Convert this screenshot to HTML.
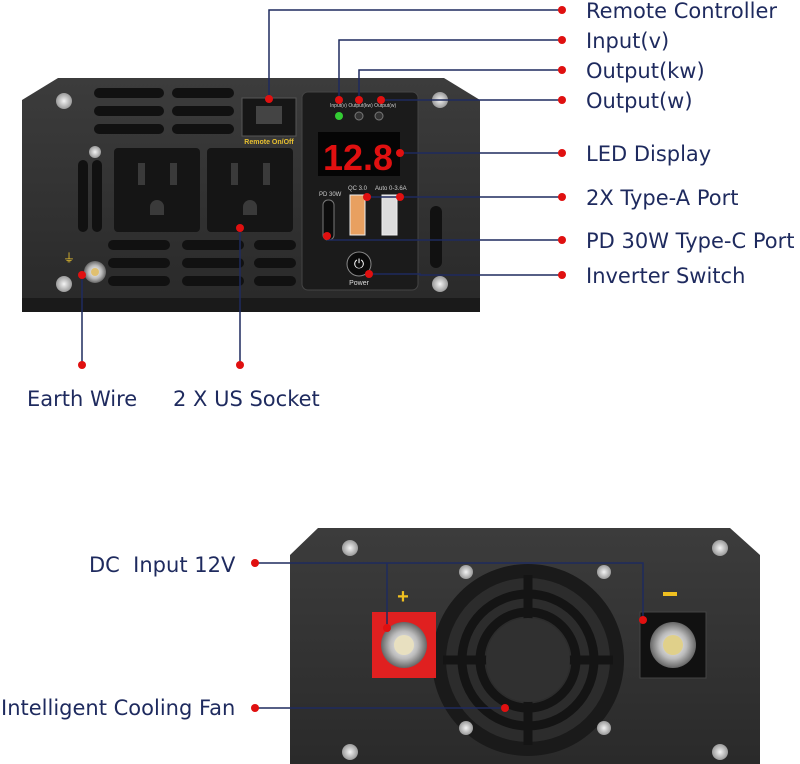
<!DOCTYPE html>
<html><head><meta charset="utf-8"><style>
html,body{margin:0;padding:0;background:#fff;width:800px;height:764px;overflow:hidden}
svg text{font-family:"Liberation Sans",sans-serif}
svg .lbl text{font-family:"DejaVu Sans",sans-serif}
</style></head><body>
<svg width="800" height="764" viewBox="0 0 800 764" xmlns="http://www.w3.org/2000/svg">
<defs>
<linearGradient id="body" x1="0" y1="0" x2="0" y2="1"><stop offset="0" stop-color="#3c3c3c"/><stop offset="1" stop-color="#2a2a2a"/></linearGradient>
<radialGradient id="screw"><stop offset="0" stop-color="#f4f4f4"/><stop offset="1" stop-color="#9a9a9a"/></radialGradient>
<radialGradient id="nut"><stop offset="0" stop-color="#fff"/><stop offset="0.6" stop-color="#bbb"/><stop offset="1" stop-color="#666"/></radialGradient>
</defs>
<rect x="22" y="292" width="458" height="20" fill="#1a1a1a"/>
<polygon points="22,100 58,78 444,78 480,100 480,298 22,298" fill="url(#body)"/>
<g fill="#111">
<rect x="94" y="88" width="70" height="10" rx="5"/><rect x="172" y="88" width="62" height="10" rx="5"/>
<rect x="94" y="106" width="70" height="10" rx="5"/><rect x="172" y="106" width="62" height="10" rx="5"/>
<rect x="94" y="124" width="70" height="10" rx="5"/><rect x="172" y="124" width="62" height="10" rx="5"/>
<rect x="108" y="240" width="62" height="10" rx="5"/><rect x="182" y="240" width="62" height="10" rx="5"/><rect x="254" y="240" width="42" height="10" rx="5"/>
<rect x="108" y="258" width="62" height="10" rx="5"/><rect x="182" y="258" width="62" height="10" rx="5"/><rect x="254" y="258" width="42" height="10" rx="5"/>
<rect x="108" y="276" width="62" height="10" rx="5"/><rect x="182" y="276" width="62" height="10" rx="5"/><rect x="254" y="276" width="42" height="10" rx="5"/>
<rect x="78" y="160" width="10" height="72" rx="5"/><rect x="92" y="160" width="10" height="72" rx="5"/>
<rect x="430" y="206" width="12" height="62" rx="6"/>
</g>
<rect x="114" y="148" width="86" height="84" rx="4" fill="#151515"/>
<rect x="207" y="148" width="86" height="84" rx="4" fill="#151515"/>
<g fill="#3a3a3a"><rect x="138" y="163" width="7" height="22"/><rect x="170" y="163" width="7" height="22"/><path d="M150 215 v-8 a7 7 0 0 1 14 0 v8z"/>
<rect x="231" y="163" width="7" height="22"/><rect x="263" y="163" width="7" height="22"/><path d="M243 215 v-8 a7 7 0 0 1 14 0 v8z"/></g>
<rect x="242" y="98" width="54" height="38" fill="#161616" stroke="#555"/>
<rect x="256" y="106" width="26" height="18" fill="#444"/>
<text x="269" y="144" font-size="7" fill="#e8c030" text-anchor="middle" font-weight="bold">Remote On/Off</text>
<rect x="302" y="92" width="116" height="198" rx="6" fill="#1b1b1b" stroke="#444"/>
<text x="330" y="107" font-size="5" fill="#ccc">Input(v)  Output(kw) Output(w)</text>
<circle cx="339" cy="116" r="4" fill="#3c3"/><circle cx="359" cy="116" r="4" fill="#333" stroke="#777"/><circle cx="379" cy="116" r="4" fill="#333" stroke="#777"/>
<rect x="318" y="132" width="82" height="44" fill="#050505"/>
<text x="358" y="170" font-size="36" fill="#e01010" text-anchor="middle" font-family="Liberation Mono" font-weight="bold">12.8</text>
<text x="319" y="196" font-size="6" fill="#ccc">PD 30W</text><text x="348" y="190" font-size="6" fill="#ccc">QC 3.0</text><text x="375" y="190" font-size="6" fill="#ccc">Auto 0-3.6A</text>
<rect x="323" y="200" width="11" height="40" rx="5" fill="#0c0c0c" stroke="#777"/>
<rect x="350" y="195" width="15" height="40" fill="#e8a060" stroke="#eee"/><rect x="382" y="195" width="15" height="40" fill="#ddd" stroke="#eee"/>
<circle cx="359" cy="264" r="12" fill="#0a0a0a" stroke="#888"/><text x="359" y="268" font-size="13" fill="#fff" text-anchor="middle">⏻</text>
<text x="359" y="285" font-size="7" fill="#ddd" text-anchor="middle">Power</text>
<g fill="url(#screw)"><circle cx="64" cy="101" r="8"/><circle cx="440" cy="100" r="8"/><circle cx="64" cy="284" r="8"/><circle cx="440" cy="284" r="8"/><circle cx="95" cy="152" r="6"/></g>
<circle cx="95" cy="272" r="11" fill="url(#nut)"/><circle cx="95" cy="272" r="4" fill="#e0c070"/>
<text x="63" y="262" font-size="12" fill="#e8c030">⏚</text>
<g stroke="#1e2a5e" stroke-width="1.5" fill="none">
<polyline points="269,99 269,10 562,10"/><polyline points="339,100 339,40 562,40"/><polyline points="359,100 359,70 562,70"/><polyline points="381,100 562,100"/>
<polyline points="400,153 562,153"/><polyline points="367,197 562,197"/><polyline points="327,240 562,240"/><polyline points="369,274 420,274 420,275 562,275"/>
<polyline points="82,275 82,365"/><polyline points="240,228 240,365"/>
</g>
<g fill="#e01010">
<circle cx="562" cy="10" r="4"/><circle cx="562" cy="40" r="4"/><circle cx="562" cy="70" r="4"/><circle cx="562" cy="100" r="4"/><circle cx="562" cy="153" r="4"/><circle cx="562" cy="197" r="4"/><circle cx="562" cy="240" r="4"/><circle cx="562" cy="275" r="4"/>
<circle cx="269" cy="99" r="4"/><circle cx="339" cy="100" r="4"/><circle cx="359" cy="100" r="4"/><circle cx="381" cy="100" r="4"/><circle cx="400" cy="153" r="4"/><circle cx="367" cy="197" r="4"/><circle cx="400" cy="197" r="4"/><circle cx="327" cy="236" r="4"/><circle cx="369" cy="274" r="4"/><circle cx="82" cy="275" r="4"/><circle cx="82" cy="365" r="4"/><circle cx="240" cy="228" r="4"/><circle cx="240" cy="365" r="4"/>
</g>
<g class="lbl" font-size="21" fill="#1e2a5e">
<text x="586" y="18">Remote Controller</text><text x="586" y="48">Input(v)</text><text x="586" y="78">Output(kw)</text><text x="586" y="108">Output(w)</text>
<text x="586" y="161">LED Display</text><text x="586" y="205">2X Type-A Port</text><text x="586" y="248">PD 30W Type-C Port</text><text x="586" y="283">Inverter Switch</text>
<text x="27" y="406">Earth Wire</text><text x="173" y="406">2 X US Socket</text>
<text x="89" y="572" xml:space="preserve">DC  Input 12V</text><text x="1" y="715">Intelligent Cooling Fan</text>
</g>
<polygon points="290,555 318,528 730,528 760,555 760,764 290,764" fill="url(#body)"/>
<circle cx="528" cy="660" r="96" fill="#1a1a1a"/>
<circle cx="528" cy="660" r="82" fill="#2c2c2c"/>
<g stroke="#141414" stroke-width="9" fill="none"><circle cx="528" cy="660" r="66"/><circle cx="528" cy="660" r="48"/>
<line x1="528" y1="575" x2="528" y2="745"/><line x1="443" y1="660" x2="613" y2="660"/></g>
<circle cx="528" cy="660" r="42" fill="#303030"/>
<g fill="url(#screw)"><circle cx="350" cy="548" r="8"/><circle cx="720" cy="548" r="8"/><circle cx="466" cy="572" r="7"/><circle cx="604" cy="572" r="7"/><circle cx="466" cy="728" r="7"/><circle cx="604" cy="728" r="7"/><circle cx="350" cy="752" r="8"/><circle cx="720" cy="752" r="8"/></g>
<rect x="372" y="612" width="64" height="66" fill="#e02020"/>
<circle cx="404" cy="645" r="23" fill="url(#nut)"/><circle cx="404" cy="645" r="10" fill="#e8e0c0"/>
<rect x="640" y="612" width="66" height="66" fill="#111" stroke="#444"/>
<circle cx="673" cy="645" r="23" fill="url(#nut)"/><circle cx="673" cy="645" r="10" fill="#e0d08a"/>
<text x="403" y="603" font-size="20" fill="#f0c020" text-anchor="middle" font-weight="bold">+</text>
<rect x="663" y="592" width="14" height="4" fill="#f0c020"/>
<g stroke="#1e2a5e" stroke-width="1.5" fill="none">
<polyline points="255,563 643,563 643,620"/><polyline points="387,563 387,628"/><polyline points="255,708 505,708"/>
</g>
<g fill="#e01010"><circle cx="255" cy="563" r="4"/><circle cx="387" cy="628" r="4"/><circle cx="643" cy="620" r="4"/><circle cx="255" cy="708" r="4"/><circle cx="505" cy="708" r="4"/></g>
</svg>
</body></html>
